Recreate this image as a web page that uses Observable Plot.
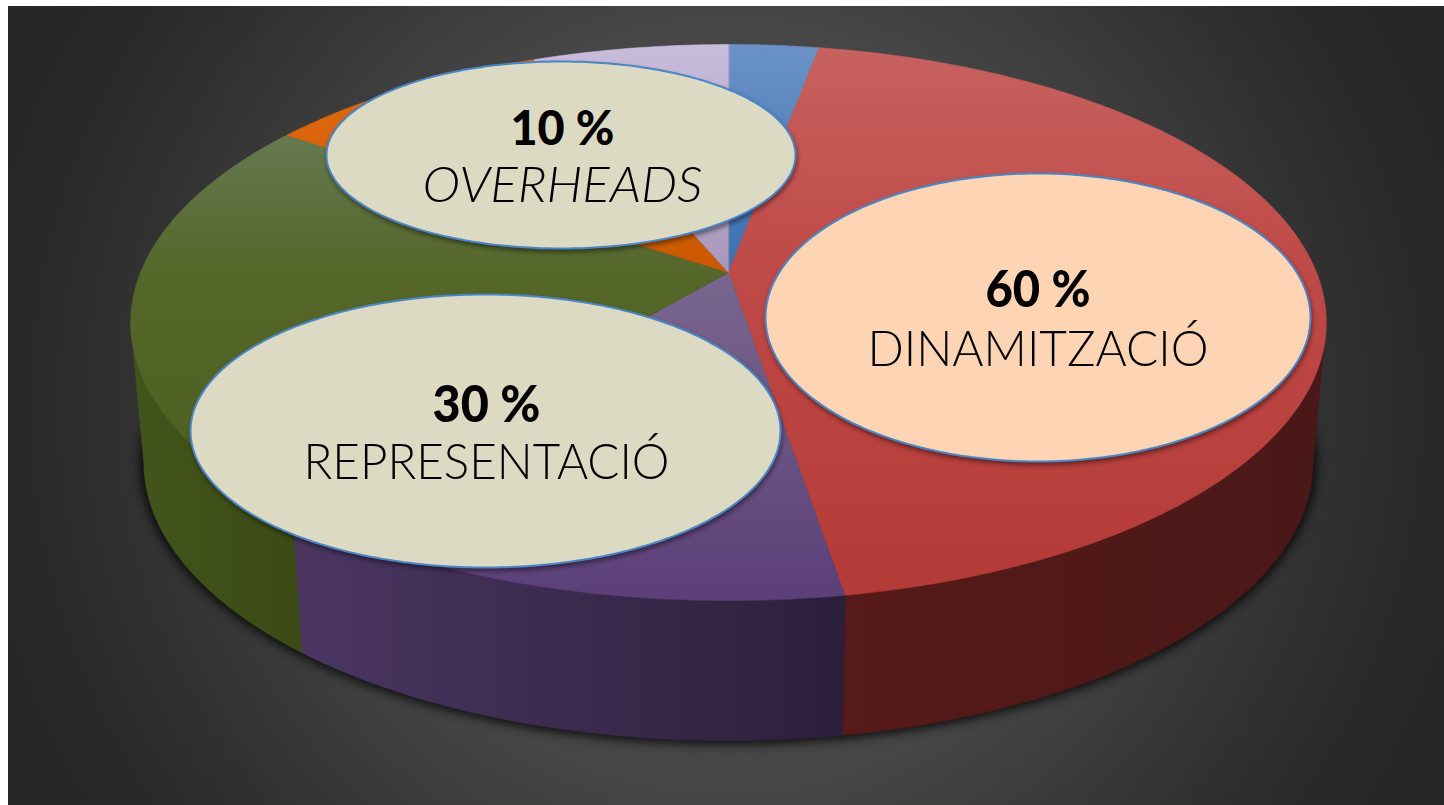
<!DOCTYPE html>
<html>
<head>
<meta charset="utf-8">
<style>
html,body{margin:0;padding:0;background:#fff;overflow:hidden}
#chart{position:absolute;left:8px;top:6px}
#chart svg{display:block}
</style>
<script src="https://cdn.jsdelivr.net/npm/d3@7"></script>
<script src="https://cdn.jsdelivr.net/npm/@observablehq/plot@0.6"></script>
</head>
<body>
<div id="chart"></div>
<script>
// Pie data, clockwise from twelve o'clock
const sliceNames = ["blue", "red", "purple", "green", "orange", "lilac"];
const sliceValues = [2.9, 44.5, 13.65, 23.45, 9.2, 6.3];
// Callouts
const calloutValues = ["10 %", "60 %", "30 %"];
const calloutNames = ["OVERHEADS", "DINAMITZACIÓ", "REPRESENTACIÓ"];

// Layout, in reference pixels
const topGradients = {
  blue: [["0%", "#6a92c6"], ["100%", "#3c70b2"]],
  red: [["0%", "#c7625f"], ["40%", "#bf4a47"], ["100%", "#b43a37"]],
  purple: [["0%", "#79678f"], ["100%", "#5c3f78"]],
  green: [["0%", "#667950"], ["38%", "#546628"], ["100%", "#4e6020"]],
  orange: [["0%", "#e26c12"], ["100%", "#ca5800"]],
  lilac: [["0%", "#c8bcdc"], ["100%", "#a797b8"]]
};
const sideGradients = {
  red: ["#561a18", "#4a1818"],
  purple: ["#4b3662", "#2c1f3b"],
  green: ["#43541c", "#3c4b16"]
};
const calloutLayout = [
  {cx: 560.5, cy: 154.5, rx: 234.5, ry: 93.5, fill: "#dddac3"},
  {cx: 1037.5, cy: 317, rx: 272.5, ry: 144, fill: "#fdd5b5"},
  {cx: 485, cy: 430.5, rx: 295, ry: 136.5, fill: "#dddac3"}
];
const textLayout = [
  {x: 562, valueY: 144, valueW: 104, valueS: 48, nameY: 201, nameW: 280, nameS: 49, italic: true},
  {x: 1037.5, valueY: 306, valueW: 105, valueS: 52, nameY: 365, nameW: 341, nameS: 50, italic: false},
  {x: 486, valueY: 421, valueW: 108, valueS: 52, nameY: 478, nameW: 366, nameS: 50, italic: false}
];

// Perspective disc: hub at (728,272), rim an ellipse seen from above
const hubX = 728, hubY = 272, persp = -0.18, spanX = 588, spanY = 269;
const lowerScale = 0.978, lowerDrop = 140;
function rim(deg) {
  const t = deg * Math.PI / 180, u = Math.sin(t), v = -Math.cos(t), w = 1 + persp * v;
  return {x: hubX + spanX * u / w, y: hubY + spanY * v / w};
}
function lowerRim(deg) {
  const p = rim(deg);
  return {x: hubX + (p.x - hubX) * lowerScale, y: p.y + lowerDrop};
}
function sweep(a, b) {
  const out = [a];
  for (let d = Math.ceil(a + 0.01); d < b; d++) out.push(d);
  out.push(b);
  return out;
}

const total = d3.sum(sliceValues);
let acc = 0;
const slices = sliceNames.map((name, i) => {
  const a = acc / total * 360;
  acc += sliceValues[i];
  return {name, a, b: acc / total * 360};
});

const frontFrom = 100.4, frontTo = 259.6;
const topShape = s => [{x: hubX, y: hubY}, ...sweep(s.a, s.b).map(rim)];
const sideShape = s => {
  const a = Math.max(s.a, frontFrom), b = Math.min(s.b, frontTo);
  if (a >= b) return null;
  const d = sweep(a, b);
  return [...d.map(rim), ...d.slice().reverse().map(lowerRim)];
};
const ellipse = c => d3.range(0, 360, 1).map(d => ({
  x: c.cx + c.rx * Math.cos(d * Math.PI / 180),
  y: c.cy + c.ry * Math.sin(d * Math.PI / 180)
}));

const closed = {x: "x", y: "y", curve: "linear-closed"};
const marks = [];

// soft shadow under the disc
marks.push(Plot.line(sweep(0, 360).map(lowerRim), {
  ...closed, fill: "#000", fillOpacity: 0.85, stroke: "#000", strokeWidth: 5, imageFilter: "blur(6px)"
}));
// sides
for (const s of slices) {
  const shape = sideShape(s);
  if (shape) marks.push(Plot.line(shape, {...closed, fill: `url(#side-${s.name})`, stroke: `url(#side-${s.name})`, strokeWidth: 0.6}));
}
// top surface
for (const s of slices) {
  marks.push(Plot.line(topShape(s), {...closed, fill: `url(#top-${s.name})`, stroke: `url(#top-${s.name})`, strokeWidth: 0.6}));
}
// callouts
calloutLayout.forEach(c => {
  marks.push(Plot.line(ellipse(c), {
    ...closed, fill: c.fill, stroke: "#4a86c6", strokeWidth: 2,
    imageFilter: "drop-shadow(1px 3px 2px rgba(0,0,0,0.42))"
  }));
});
// callout text
const font = "Lato, 'Open Sans', sans-serif";
textLayout.forEach((t, i) => {
  marks.push(Plot.text([calloutValues[i]], {
    x: () => t.x, y: () => t.valueY, text: d => d, lineAnchor: "bottom", textAnchor: "middle",
    fontFamily: font, fontWeight: 900, fontSize: t.valueS, fill: "#000"
  }));
  marks.push(Plot.text([calloutNames[i]], {
    x: () => t.x, y: () => t.nameY, text: d => d, lineAnchor: "bottom", textAnchor: "middle",
    fontFamily: font, fontWeight: 300, fontStyle: t.italic ? "italic" : "normal", fontSize: t.nameS, fill: "#000"
  }));
});

const chart = Plot.plot({
  width: 1436, height: 799,
  marginTop: 0, marginRight: 0, marginBottom: 0, marginLeft: 0,
  x: {domain: [8, 1444], range: [0, 1436], axis: null},
  y: {domain: [6, 805], range: [0, 799], axis: null},
  style: {
    background: "radial-gradient(circle at 50% 50%, #505050 0%, #464646 47%, #303030 75%, #282828 87%, #262626 100%)",
    maxWidth: "none"
  },
  marks
});

// gradients used by the surfaces
const NS = "http://www.w3.org/2000/svg";
const defs = document.createElementNS(NS, "defs");
function gradient(id, stops, horizontal) {
  const g = document.createElementNS(NS, "linearGradient");
  g.setAttribute("id", id);
  g.setAttribute("x1", "0"); g.setAttribute("y1", "0");
  g.setAttribute("x2", horizontal ? "1" : "0"); g.setAttribute("y2", horizontal ? "0" : "1");
  stops.forEach(([o, c]) => {
    const s = document.createElementNS(NS, "stop");
    s.setAttribute("offset", o); s.setAttribute("stop-color", c);
    g.appendChild(s);
  });
  defs.appendChild(g);
}
for (const k in topGradients) gradient(`top-${k}`, topGradients[k], false);
for (const k in sideGradients) gradient(`side-${k}`, [["0%", sideGradients[k][0]], ["100%", sideGradients[k][1]]], true);
chart.insertBefore(defs, chart.firstChild);

// fit the substitute font to the measured text widths
const widths = new Map();
textLayout.forEach((t, i) => { widths.set(calloutValues[i], t.valueW); widths.set(calloutNames[i], t.nameW); });
document.getElementById("chart").appendChild(chart);
chart.querySelectorAll("text").forEach(el => {
  const w = widths.get(el.textContent);
  if (w) { el.setAttribute("textLength", w); el.setAttribute("lengthAdjust", "spacingAndGlyphs"); }
});
</script>
</body>
</html>
